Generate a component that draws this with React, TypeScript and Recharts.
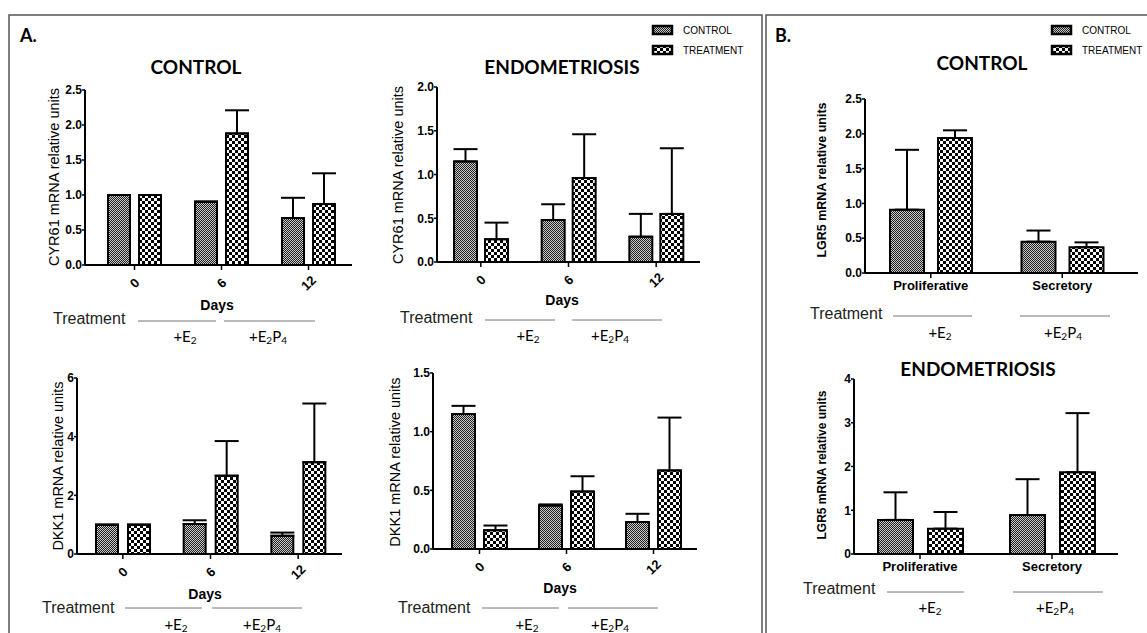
import React from "react";
import { BarChart, Bar, XAxis, YAxis, ErrorBar } from "recharts";

const days = ["0", "6", "12"];
const phases = ["Proliferative", "Secretory"];

// A. CYR61 - control patients
const cyrCtrlControl = [1.0, 0.9, 0.67];
const cyrCtrlControlSem = [0, 0.01, 0.29];
const cyrCtrlTreat = [1.0, 1.88, 0.87];
const cyrCtrlTreatSem = [0, 0.33, 0.44];

// A. CYR61 - endometriosis
const cyrEndoControl = [1.15, 0.48, 0.29];
const cyrEndoControlSem = [0.14, 0.18, 0.26];
const cyrEndoTreat = [0.26, 0.96, 0.55];
const cyrEndoTreatSem = [0.19, 0.5, 0.75];

// A. DKK1 - control patients
const dkkCtrlControl = [1.0, 1.02, 0.62];
const dkkCtrlControlSem = [0, 0.13, 0.11];
const dkkCtrlTreat = [1.0, 2.67, 3.13];
const dkkCtrlTreatSem = [0, 1.18, 2.0];

// A. DKK1 - endometriosis
const dkkEndoControl = [1.15, 0.37, 0.23];
const dkkEndoControlSem = [0.07, 0.01, 0.07];
const dkkEndoTreat = [0.16, 0.49, 0.67];
const dkkEndoTreatSem = [0.04, 0.13, 0.45];

// B. LGR5 - control patients
const lgrCtrlControl = [0.91, 0.45];
const lgrCtrlControlSem = [0.86, 0.16];
const lgrCtrlTreat = [1.94, 0.37];
const lgrCtrlTreatSem = [0.11, 0.07];

// B. LGR5 - endometriosis
const lgrEndoControl = [0.78, 0.89];
const lgrEndoControlSem = [0.63, 0.82];
const lgrEndoTreat = [0.58, 1.87];
const lgrEndoTreatSem = [0.38, 1.35];

const buildRows = (
  cats: string[],
  ctrl: number[],
  ctrlSem: number[],
  trt: number[],
  trtSem: number[]
) =>
  cats.map((cat, i) => ({
    cat,
    control: ctrl[i],
    treatment: trt[i],
    controlErr: [0, ctrlSem[i]],
    treatmentErr: [0, trtSem[i]],
  }));

const SANS = "'Liberation Sans', Arial, sans-serif";
const CAL = "Lato, 'Open Sans', sans-serif";

const DayTick = (props: any) => {
  const { x, y, payload } = props;
  return (
    <g transform={`translate(${x},${y + 11})`}>
      <text
        textAnchor="middle"
        dominantBaseline="central"
        transform="rotate(-45)"
        fontFamily={SANS}
        fontWeight="bold"
        fontSize={13}
        fill="#000"
      >
        {payload.value}
      </text>
    </g>
  );
};

const PhaseTick = (props: any) => {
  const { x, y, payload } = props;
  return (
    <text
      x={x}
      y={y + 5}
      textAnchor="middle"
      dominantBaseline="central"
      fontFamily={SANS}
      fontWeight="bold"
      fontSize={13}
      fill="#000"
    >
      {payload.value}
    </text>
  );
};

type PanelProps = {
  rows: any[];
  x0: number;
  x1: number;
  yTop: number;
  yZero: number;
  max: number;
  ticks: number[];
  decimals: number;
  barSize: number;
  barGap: number;
  angled: boolean;
  padL?: number;
  padR?: number;
};

const Panel = ({
  rows,
  x0,
  x1,
  yTop,
  yZero,
  max,
  ticks,
  decimals,
  barSize,
  barGap,
  angled,
  padL = 0,
  padR = 0,
}: PanelProps) => {
  const pw = x1 - x0;
  const ph = yZero - yTop;
  return (
    <div style={{ position: "absolute", left: x0 - 60, top: yTop - 12 }}>
      <BarChart
        width={pw + 72}
        height={ph + 52}
        data={rows}
        margin={{ top: 12, right: 12, left: 20, bottom: 0 }}
        barSize={barSize}
        barGap={barGap}
      >
        <XAxis
          dataKey="cat"
          height={40}
          interval={0}
          padding={{ left: padL, right: padR }}
          axisLine={{ stroke: "#000", strokeWidth: 2 }}
          tickLine={{ stroke: "#000", strokeWidth: 1.5 }}
          tickSize={5}
          tick={angled ? DayTick : PhaseTick}
        />
        <YAxis
          width={40}
          domain={[0, max]}
          ticks={ticks}
          allowDataOverflow
          axisLine={{ stroke: "#000", strokeWidth: 2 }}
          tickLine={{ stroke: "#000", strokeWidth: 1.5 }}
          tickSize={3}
          tickMargin={0}
          tickFormatter={(v: number) => v.toFixed(decimals)}
          tick={{ fontFamily: SANS, fontWeight: "bold", fontSize: 12, fill: "#000" }}
        />
        <Bar
          dataKey="control"
          fill="url(#ctrlFill)"
          stroke="#000"
          strokeWidth={2}
          isAnimationActive={false}
        >
          <ErrorBar dataKey="controlErr" width={12} stroke="#000" strokeWidth={2} />
        </Bar>
        <Bar
          dataKey="treatment"
          fill="url(#trtFill)"
          stroke="#000"
          strokeWidth={2}
          isAnimationActive={false}
        >
          <ErrorBar dataKey="treatmentErr" width={12} stroke="#000" strokeWidth={2} />
        </Bar>
      </BarChart>
    </div>
  );
};

const Sub = ({ children }: { children: string }) => (
  <tspan fontSize={10} dy={4}>
    {children}
  </tspan>
);

const TreatmentRow = ({
  tx,
  ty,
  ly,
  lines,
  labY,
  labs,
}: {
  tx: number;
  ty: number;
  ly: number;
  lines: number[][];
  labY: number;
  labs: number[];
}) => (
  <g>
    <text x={tx} y={ty} dominantBaseline="central" fontFamily={SANS} fontSize={16} fill="#222">
      Treatment
    </text>
    {lines.map(([a, b], i) => (
      <line key={i} x1={a} x2={b} y1={ly} y2={ly} stroke="#777" strokeWidth={1} />
    ))}
    <text x={labs[0]} y={labY} textAnchor="middle" dominantBaseline="central" fontFamily={CAL} fontSize={15} fill="#000">
      +E<Sub>2</Sub>
    </text>
    <text x={labs[1]} y={labY} textAnchor="middle" dominantBaseline="central" fontFamily={CAL} fontSize={15} fill="#000">
      +E<Sub>2</Sub>
      <tspan dy={-4}>P</tspan>
      <Sub>4</Sub>
    </text>
  </g>
);

const YLabel = ({ x, y, text, bold, size }: { x: number; y: number; text: string; bold?: boolean; size: number }) => (
  <text
    x={x}
    y={y}
    transform={`rotate(-90 ${x} ${y})`}
    textAnchor="middle"
    dominantBaseline="central"
    fontFamily={SANS}
    fontWeight={bold ? "bold" : "normal"}
    fontSize={size}
    fill="#000"
  >
    {text}
  </text>
);

const Title = ({ x, y, text }: { x: number; y: number; text: string }) => (
  <text x={x} y={y} textAnchor="middle" dominantBaseline="central" fontFamily={CAL} fontWeight="bold" fontSize={19} fill="#000">
    {text}
  </text>
);

const Days = ({ x, y }: { x: number; y: number }) => (
  <text x={x} y={y} textAnchor="middle" dominantBaseline="central" fontFamily={SANS} fontWeight="bold" fontSize={14} fill="#000">
    Days
  </text>
);

const Legend = ({ x }: { x: number }) => (
  <g>
    <rect x={x} y={26} width={19} height={8} fill="url(#ctrlFill)" stroke="#000" strokeWidth={2.5} />
    <rect x={x} y={46} width={19} height={8} fill="url(#trtFill)" stroke="#000" strokeWidth={2.5} />
    <text x={x + 30} y={30} dominantBaseline="central" fontFamily={SANS} fontSize={10} fill="#000">
      CONTROL
    </text>
    <text x={x + 30} y={50} dominantBaseline="central" fontFamily={SANS} fontSize={10} fill="#000">
      TREATMENT
    </text>
  </g>
);

export default function App() {
  return (
    <div
      style={{
        position: "absolute",
        left: 0,
        top: 0,
        width: 1147,
        height: 633,
        background: "#fff",
        overflow: "hidden",
      }}
    >
      <svg width={0} height={0} style={{ position: "absolute" }}>
        <defs>
          <pattern id="ctrlFill" width={2} height={2} patternUnits="userSpaceOnUse">
            <rect width={2} height={2} fill="#c8c8c8" />
            <rect x={0} y={0} width={1} height={1} fill="#222" />
            <rect x={1} y={1} width={1} height={1} fill="#222" />
          </pattern>
          <pattern id="trtFill" width={6} height={6} patternUnits="userSpaceOnUse">
            <rect width={6} height={6} fill="#fff" />
            <rect x={0} y={0} width={3} height={3} fill="#000" />
            <rect x={3} y={3} width={3} height={3} fill="#000" />
          </pattern>
        </defs>
      </svg>

      <Panel
        rows={buildRows(days, cyrCtrlControl, cyrCtrlControlSem, cyrCtrlTreat, cyrCtrlTreatSem)}
        x0={85} x1={352} yTop={90} yZero={265}
        max={2.5} ticks={[0, 0.5, 1, 1.5, 2, 2.5]} decimals={1}
        barSize={22} barGap={9} angled padL={6}
      />
      <Panel
        rows={buildRows(days, cyrEndoControl, cyrEndoControlSem, cyrEndoTreat, cyrEndoTreatSem)}
        x0={437} x1={700} yTop={87} yZero={262}
        max={2} ticks={[0, 0.5, 1, 1.5, 2]} decimals={1}
        barSize={23} barGap={8} angled
      />
      <Panel
        rows={buildRows(days, dkkCtrlControl, dkkCtrlControlSem, dkkCtrlTreat, dkkCtrlTreatSem)}
        x0={77} x1={342} yTop={378} yZero={554}
        max={6} ticks={[0, 2, 4, 6]} decimals={0}
        barSize={22} barGap={10} angled padL={2}
      />
      <Panel
        rows={buildRows(days, dkkEndoControl, dkkEndoControlSem, dkkEndoTreat, dkkEndoTreatSem)}
        x0={433} x1={697} yTop={373} yZero={549}
        max={1.5} ticks={[0, 0.5, 1, 1.5]} decimals={1}
        barSize={23} barGap={9} angled padL={3}
      />
      <Panel
        rows={buildRows(phases, lgrCtrlControl, lgrCtrlControlSem, lgrCtrlTreat, lgrCtrlTreatSem)}
        x0={865} x1={1138} yTop={99} yZero={273}
        max={2.5} ticks={[0, 0.5, 1, 1.5, 2, 2.5]} decimals={1}
        barSize={34} barGap={14} angled={false} padR={10}
      />
      <Panel
        rows={buildRows(phases, lgrEndoControl, lgrEndoControlSem, lgrEndoTreat, lgrEndoTreatSem)}
        x0={854} x1={1118} yTop={379} yZero={554}
        max={4} ticks={[0, 1, 2, 3, 4]} decimals={0}
        barSize={35} barGap={15} angled={false}
      />

      <svg
        width={1147}
        height={633}
        style={{ position: "absolute", left: 0, top: 0, pointerEvents: "none" }}
      >
        {/* panel frames */}
        <polyline points="9,640 9,15 762,15 762,640" fill="none" stroke="#555" strokeWidth={1.5} />
        <polyline points="766,640 766,15 1150,15" fill="none" stroke="#555" strokeWidth={1.5} />

        <text x={20} y={35} dominantBaseline="central" fontFamily={CAL} fontWeight="bold" fontSize={18} fill="#000">
          A.
        </text>
        <text x={775} y={35} dominantBaseline="central" fontFamily={CAL} fontWeight="bold" fontSize={18} fill="#000">
          B.
        </text>

        <Legend x={653} />
        <Legend x={1052} />

        <Title x={196} y={66} text="CONTROL" />
        <Title x={562} y={66} text="ENDOMETRIOSIS" />
        <Title x={982} y={62} text="CONTROL" />
        <Title x={978} y={368} text="ENDOMETRIOSIS" />

        <YLabel x={54} y={177} text="CYR61 mRNA relative units" size={14.5} />
        <YLabel x={398} y={175} text="CYR61 mRNA relative units" size={14.5} />
        <YLabel x={58} y={466} text="DKK1 mRNA relative units" size={14.5} />
        <YLabel x={395} y={462} text="DKK1 mRNA relative units" size={14.5} />
        <YLabel x={822} y={180} text="LGR5 mRNA relative units" size={12.5} bold />
        <YLabel x={822} y={465} text="LGR5 mRNA relative units" size={12} bold />

        <Days x={217} y={305} />
        <Days x={562} y={300} />
        <Days x={205} y={594} />
        <Days x={560} y={588} />

        <TreatmentRow tx={53} ty={318} ly={321} lines={[[138, 216], [224, 315]]} labY={336} labs={[185, 268]} />
        <TreatmentRow tx={400} ty={317} ly={320} lines={[[485, 555], [572, 662]]} labY={335} labs={[528, 610]} />
        <TreatmentRow tx={42} ty={607} ly={608} lines={[[125, 202], [212, 302]]} labY={624} labs={[176, 262]} />
        <TreatmentRow tx={398} ty={607} ly={608} lines={[[482, 559], [568, 658]]} labY={624} labs={[527, 610]} />
        <TreatmentRow tx={810} ty={313} ly={316} lines={[[893, 972], [1020, 1110]]} labY={332} labs={[940, 1063]} />
        <TreatmentRow tx={803} ty={588} ly={592} lines={[[887, 964], [1013, 1103]]} labY={607} labs={[930, 1055]} />
      </svg>
    </div>
  );
}
